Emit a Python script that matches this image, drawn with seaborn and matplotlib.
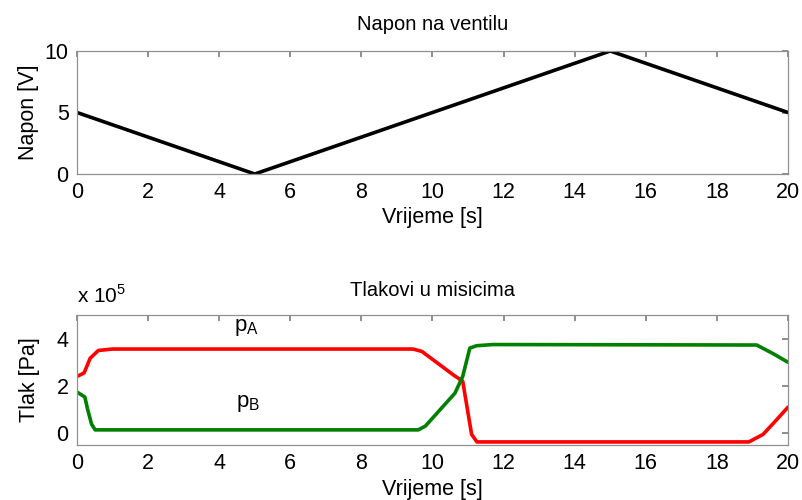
import pandas as pd
import seaborn as sns
import matplotlib.pyplot as plt

# valve voltage (triangle)
t_volt = [0, 5, 15, 20]
napon = [5, 0, 10, 5]

# chamber pressures, units of 1e5 Pa (breakpoints)
t_pa = [0, 0.2, 0.37, 0.6, 1.0, 9.45, 9.7, 10.2, 10.6, 10.85, 11.1, 11.25, 12, 18.9, 19.3, 19.7, 20]
p_a = [2.4, 2.55, 3.17, 3.5, 3.56, 3.56, 3.46, 2.9, 2.45, 2.2, -0.05, -0.37, -0.37, -0.37, -0.05, 0.6, 1.1]
t_pb = [0, 0.22, 0.3, 0.41, 0.51, 1.0, 9.6, 9.8, 10.63, 10.85, 11.05, 11.24, 11.7, 19.12, 19.6, 20]
p_b = [1.74, 1.53, 1.0, 0.38, 0.14, 0.14, 0.14, 0.3, 1.69, 2.4, 3.6, 3.7, 3.75, 3.73, 3.35, 3.0]

df_v = pd.DataFrame({"t": t_volt, "u": napon})
df_a = pd.DataFrame({"t": t_pa, "p": p_a})
df_b = pd.DataFrame({"t": t_pb, "p": p_b})

sns.set_theme(style="white")
plt.rcParams["font.family"] = ["Liberation Sans", "DejaVu Sans"]
plt.rcParams["mathtext.fontset"] = "custom"
plt.rcParams["mathtext.rm"] = "Liberation Sans"
plt.rcParams["text.color"] = "black"
plt.rcParams["axes.labelcolor"] = "black"
plt.rcParams["xtick.labelcolor"] = "black"
plt.rcParams["ytick.labelcolor"] = "black"

fig = plt.figure(figsize=(8.03, 5.0), dpi=100)
ax1 = fig.add_axes([0.0959, 0.652, 0.8854, 0.246])
ax2 = fig.add_axes([0.0959, 0.11, 0.8854, 0.26])

sns.lineplot(data=df_v, x="t", y="u", ax=ax1, color="black", lw=2.6)
sns.lineplot(data=df_a, x="t", y="p", ax=ax2, color="#ff0000", lw=2.6)
sns.lineplot(data=df_b, x="t", y="p", ax=ax2, color="#008000", lw=2.6)

for ax in (ax1, ax2):
    ax.set_xlim(0, 20)
    ax.set_xticks(range(0, 21, 2))
    ax.tick_params(direction="in", length=4, labelsize=15.5, color="#808080",
                   labelcolor="black", top=True, right=True, pad=6)
    for s in ax.spines.values():
        s.set_color("#909090")
        s.set_linewidth(0.9)
    ax.set_xlabel("Vrijeme [s]", fontsize=15.5, labelpad=3, color="black")

ax1.set_ylim(0, 10)
ax1.set_yticks([0, 5, 10])
ax1.set_ylabel("Napon [V]", fontsize=15.5, labelpad=4, color="black")
ax1.set_title("Napon na ventilu", fontsize=14.5, pad=15, color="black")

ax2.set_ylim(-0.5, 5)
ax2.set_yticks([0, 2, 4])
ax2.set_ylabel("Tlak [Pa]", fontsize=15.5, labelpad=12, color="black")
ax2.set_title("Tlakovi u misicima", fontsize=14.5, pad=14, color="black")
ax2.text(0, 1.06, r"x 10$^\mathregular{5}$", transform=ax2.transAxes, fontsize=15, va="bottom")
ax2.text(4.77, 4.45, r"p$_\mathregular{A}$", fontsize=16, ha="center", va="center")
ax2.text(4.8, 1.25, r"p$_\mathregular{B}$", fontsize=16, ha="center", va="center")

fig.savefig("out.png", dpi=100)
